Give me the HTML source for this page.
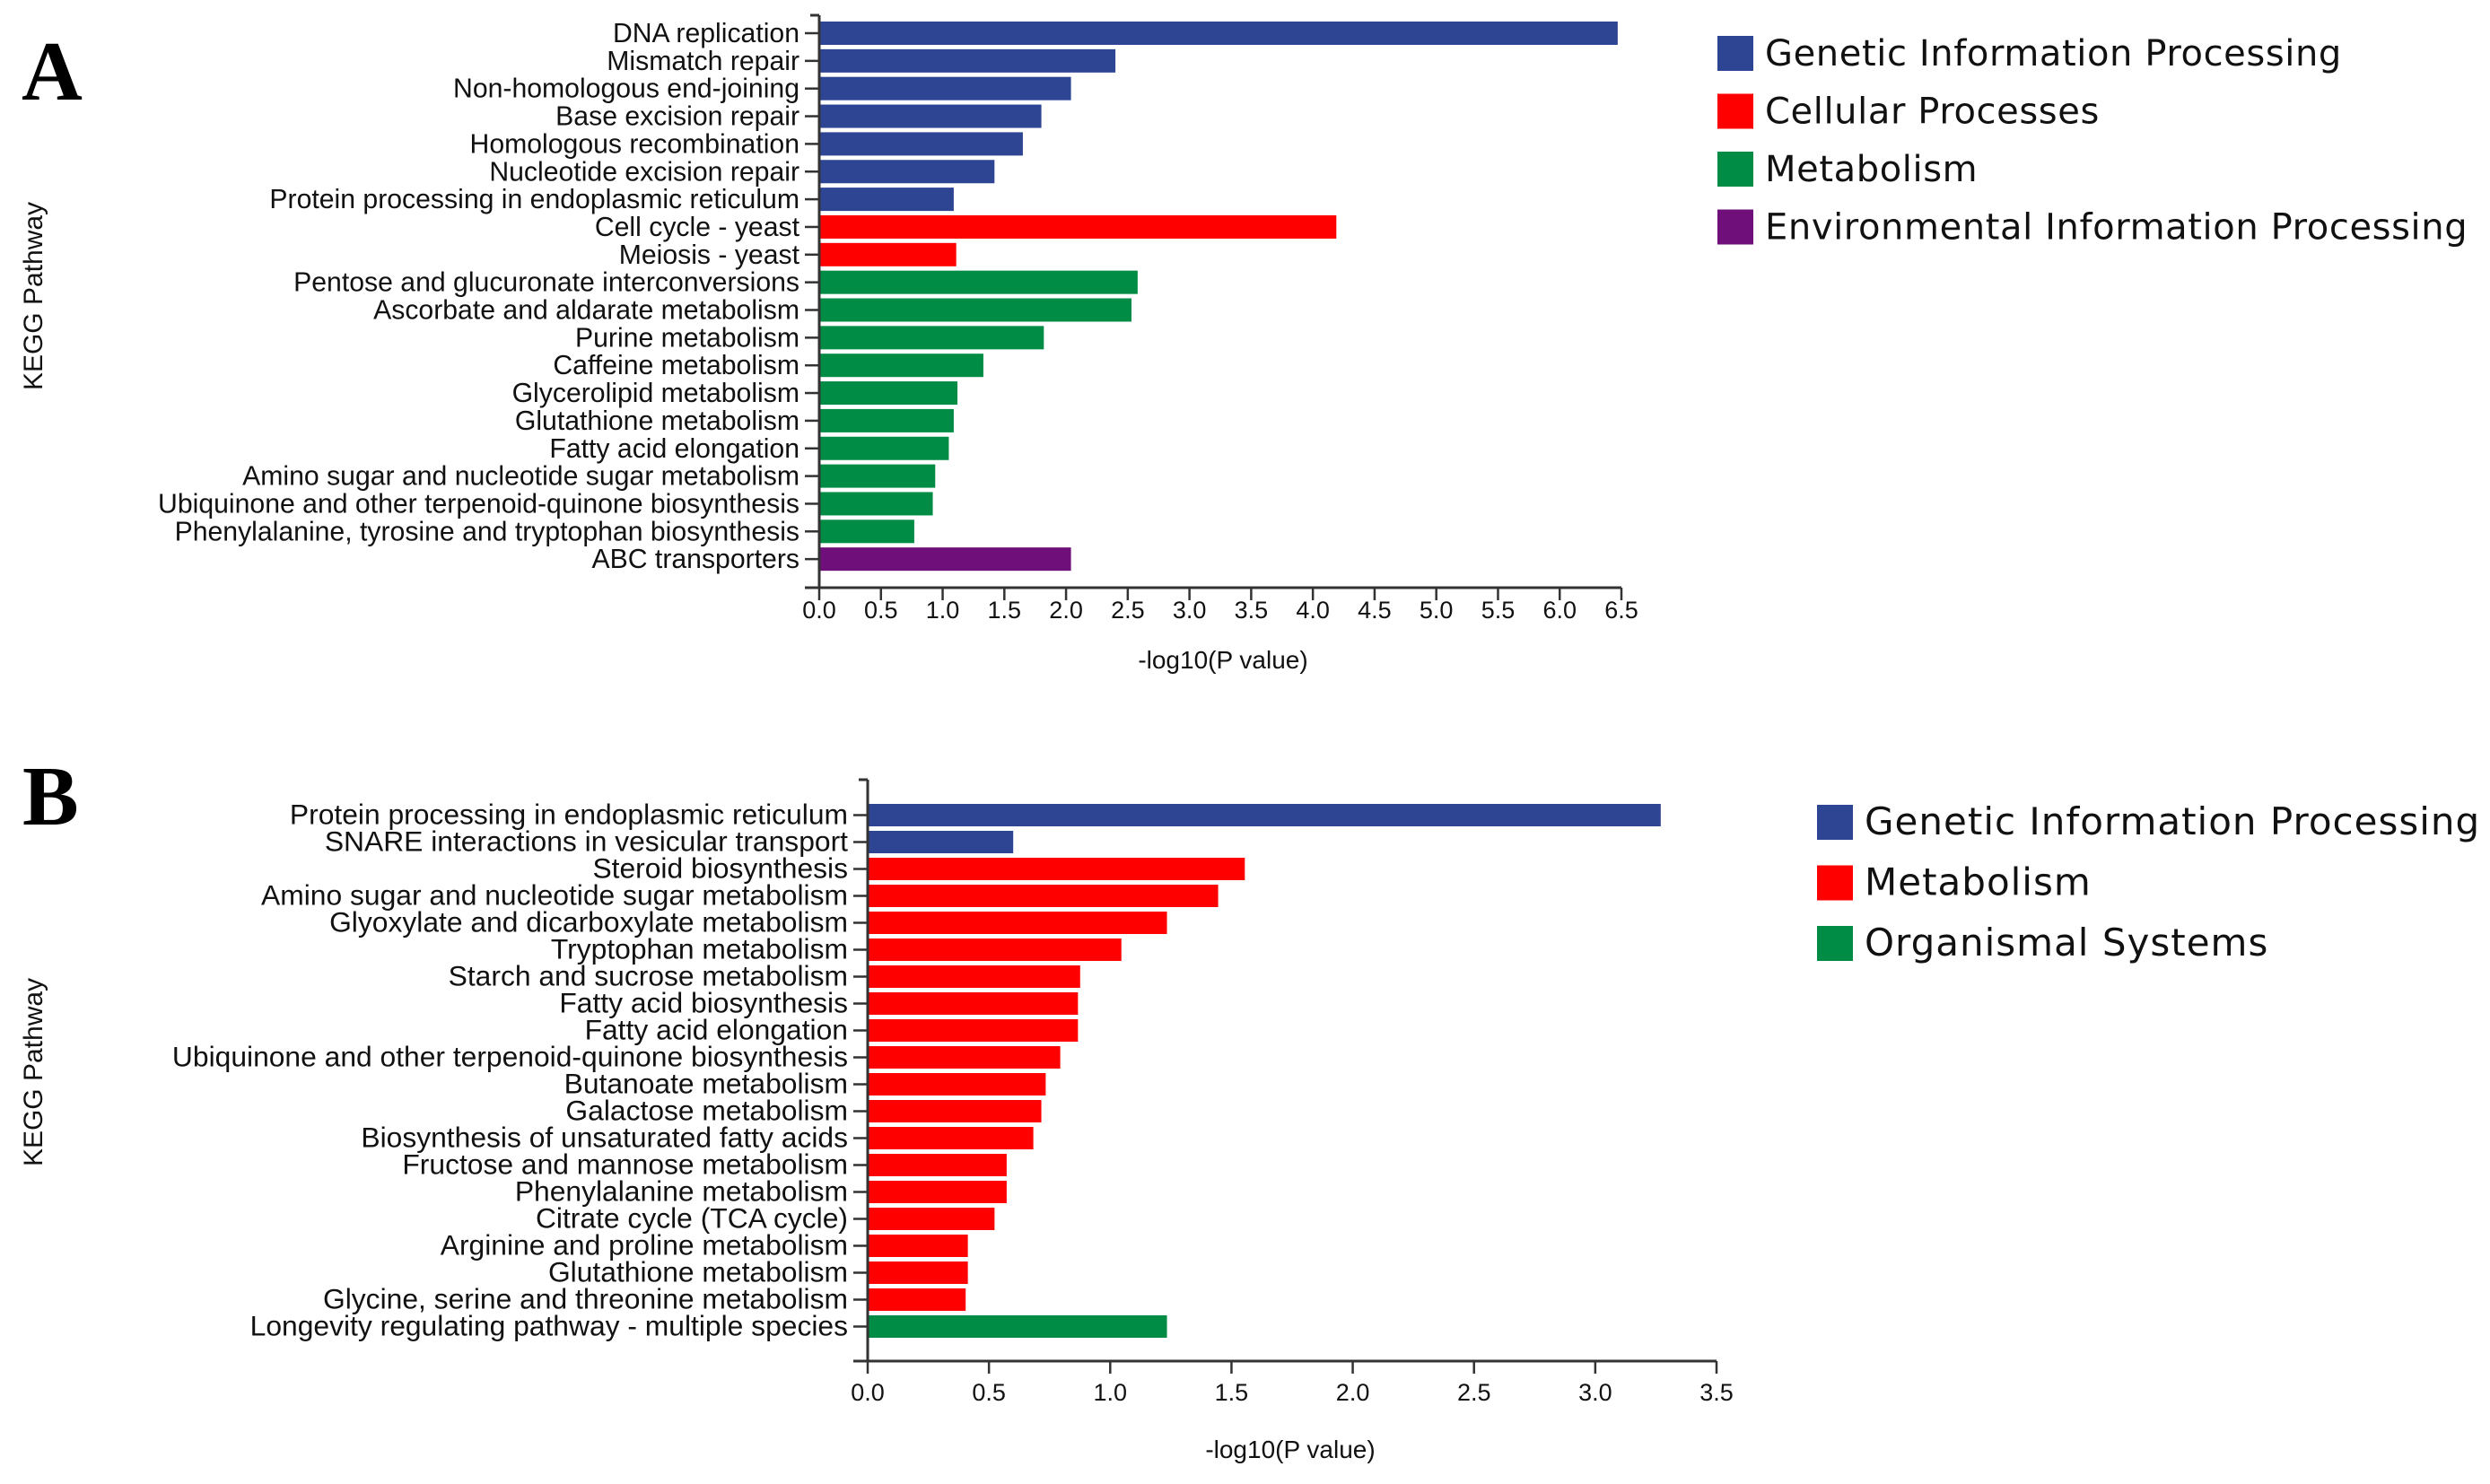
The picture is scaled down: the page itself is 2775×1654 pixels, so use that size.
<!DOCTYPE html>
<html><head><meta charset="utf-8"><style>
html,body{margin:0;padding:0;background:#fff;}
svg{display:block;font-family:"Liberation Sans",Arial,sans-serif;}
</style></head><body>
<svg id="fig" width="2775" height="1654" viewBox="0 0 2775 1654"></svg>
<script>
const catsA = ["DNA replication","Mismatch repair","Non-homologous end-joining","Base excision repair","Homologous recombination","Nucleotide excision repair","Protein processing in endoplasmic reticulum","Cell cycle - yeast","Meiosis - yeast","Pentose and glucuronate interconversions","Ascorbate and aldarate metabolism","Purine metabolism","Caffeine metabolism","Glycerolipid metabolism","Glutathione metabolism","Fatty acid elongation","Amino sugar and nucleotide sugar metabolism","Ubiquinone and other terpenoid-quinone biosynthesis","Phenylalanine, tyrosine and tryptophan biosynthesis","ABC transporters"];
const valsA = [6.47,2.40,2.04,1.80,1.65,1.42,1.09,4.19,1.11,2.58,2.53,1.82,1.33,1.12,1.09,1.05,0.94,0.92,0.77,2.04];
const groupA = [0,0,0,0,0,0,0,1,1,2,2,2,2,2,2,2,2,2,2,3];
const legendA = ["Genetic Information Processing","Cellular Processes","Metabolism","Environmental Information Processing"];
const ticksA = ["0.0","0.5","1.0","1.5","2.0","2.5","3.0","3.5","4.0","4.5","5.0","5.5","6.0","6.5"];

const catsB = ["Protein processing in endoplasmic reticulum","SNARE interactions in vesicular transport","Steroid biosynthesis","Amino sugar and nucleotide sugar metabolism","Glyoxylate and dicarboxylate metabolism","Tryptophan metabolism","Starch and sucrose metabolism","Fatty acid biosynthesis","Fatty acid elongation","Ubiquinone and other terpenoid-quinone biosynthesis","Butanoate metabolism","Galactose metabolism","Biosynthesis of unsaturated fatty acids","Fructose and mannose metabolism","Phenylalanine metabolism","Citrate cycle (TCA cycle)","Arginine and proline metabolism","Glutathione metabolism","Glycine, serine and threonine metabolism","Longevity regulating pathway - multiple species"];
const valsB = [3.27,0.60,1.555,1.445,1.234,1.046,0.876,0.867,0.867,0.794,0.734,0.716,0.683,0.573,0.573,0.523,0.413,0.413,0.404,1.234];
const groupB = [0,0,1,1,1,1,1,1,1,1,1,1,1,1,1,1,1,1,1,2];
const legendB = ["Genetic Information Processing","Metabolism","Organismal Systems"];
const ticksB = ["0.0","0.5","1.0","1.5","2.0","2.5","3.0","3.5"];

const colorsA = ["#2e4593","#ff0000","#008c45","#6e0f7a"];
const colorsB = ["#2e4593","#ff0000","#008c45"];

const svg = document.getElementById('fig');
const NS = "http://www.w3.org/2000/svg";
function mk(tag, attrs, parent, text){
  const e = document.createElementNS(NS, tag);
  for (const k in attrs) e.setAttribute(k, attrs[k]);
  if (text !== undefined) e.textContent = text;
  (parent||svg).appendChild(e);
  return e;
}

function panel(cfg){
  const g = mk('g', {});
  
  
  const xMax = parseFloat(cfg.ticks[cfg.ticks.length-1]);
  const xs = v => cfg.x0 + (v / xMax) * (cfg.x1 - cfg.x0);
  const ys = i => cfg.firstTop + i * cfg.pitch;
  cfg.cats.forEach((c, i) => {
    const r = mk('rect', {x: cfg.x0, y: ys(i), width: Math.max(0, xs(cfg.vals[i]) - cfg.x0), height: cfg.barH, fill: cfg.colors[cfg.groups[i]]}, g);
    
    
    const cy = ys(i) + cfg.barH/2;
    const tk = mk('line', {x1: cfg.x0-16, x2: cfg.x0, y1: cy, y2: cy, stroke: '#333', 'stroke-width': 2.5}, g);
    
    
    const t = mk('text', {x: cfg.x0-22, y: cy+10, 'text-anchor': 'end', 'font-size': cfg.labFont, fill: '#111'}, g, c);
    
    
  });
  const ya = mk('line', {x1: cfg.x0, x2: cfg.x0, y1: cfg.axTop, y2: cfg.axY, stroke: '#333', 'stroke-width': 3}, g);
  
  
  mk('line', {x1: cfg.x0-10, x2: cfg.x0, y1: cfg.axTop, y2: cfg.axTop, stroke: '#333', 'stroke-width': 3}, g);
  const xa = mk('line', {x1: cfg.x0-16, x2: cfg.x1, y1: cfg.axY, y2: cfg.axY, stroke: '#333', 'stroke-width': 3}, g);
  
  
  cfg.ticks.forEach(tv => {
    const x = xs(parseFloat(tv));
    const l = mk('line', {x1: x, x2: x, y1: cfg.axY, y2: cfg.axY+14, stroke: '#333', 'stroke-width': 2.5}, g);
    
    
    const t = mk('text', {x: x, y: cfg.axY+cfg.tickOff, 'text-anchor': 'middle', 'font-size': 27, fill: '#111'}, g, tv);
    
    
  });
  const xt = mk('text', {x: cfg.titleX, y: cfg.titleY, 'text-anchor': 'middle', 'font-size': 28, fill: '#111'}, g, '-log10(P value)');
  
  
  const yt = mk('text', {x: 0, y: 0, transform: 'translate(47,' + cfg.yTitleY + ') rotate(-90)', 'text-anchor': 'middle', 'font-size': 30, fill: '#111'}, g, 'KEGG Pathway');
  
  
  const pl = mk('text', {x: cfg.letterX, y: cfg.letterY, 'font-size': 94, 'font-weight': 'bold', 'font-family': '"Liberation Serif",serif', fill: '#000'}, g, cfg.letter);
  
  
  cfg.legend.forEach((name, i) => {
    const cy = cfg.legY0 + i * cfg.legPitch;
    const lg = mk('g', {}, g);
    
    
    mk('rect', {x: cfg.legX, y: cy-19, width: 40, height: 39, fill: cfg.colors[i]}, lg);
    mk('text', {x: cfg.legX+53, y: cy+14, 'font-size': cfg.legFont, 'font-family': '"DejaVu Sans",sans-serif', fill: '#111', 'letter-spacing': cfg.legSp}, lg, name);
  });
}

panel({name:'panel-a', cats: catsA, vals: valsA, groups: groupA, colors: colorsA, ticks: ticksA, legend: legendA,
  x0: 913, x1: 1807, firstTop: 24, pitch: 30.85, barH: 26, axTop: 17, axY: 655, labFont: 30.2, tickOff: 34,
  titleX: 1363, titleY: 745, yTitleY: 330, letter: 'A', letterX: 24, letterY: 111,
  legX: 1914, legY0: 59, legPitch: 64.5, legFont: 40, legSp: 0.6});
panel({name:'panel-b', cats: catsB, vals: valsB, groups: groupB, colors: colorsB, ticks: ticksB, legend: legendB,
  x0: 967, x1: 1913, firstTop: 896, pitch: 30.0, barH: 25, axTop: 869, axY: 1517, labFont: 31.8, tickOff: 44,
  titleX: 1438, titleY: 1625, yTitleY: 1195, letter: 'B', letterX: 25, letterY: 919,
  legX: 2025, legY0: 916, legPitch: 67.5, legFont: 42, legSp: 1.0});
</script>
</body></html>
